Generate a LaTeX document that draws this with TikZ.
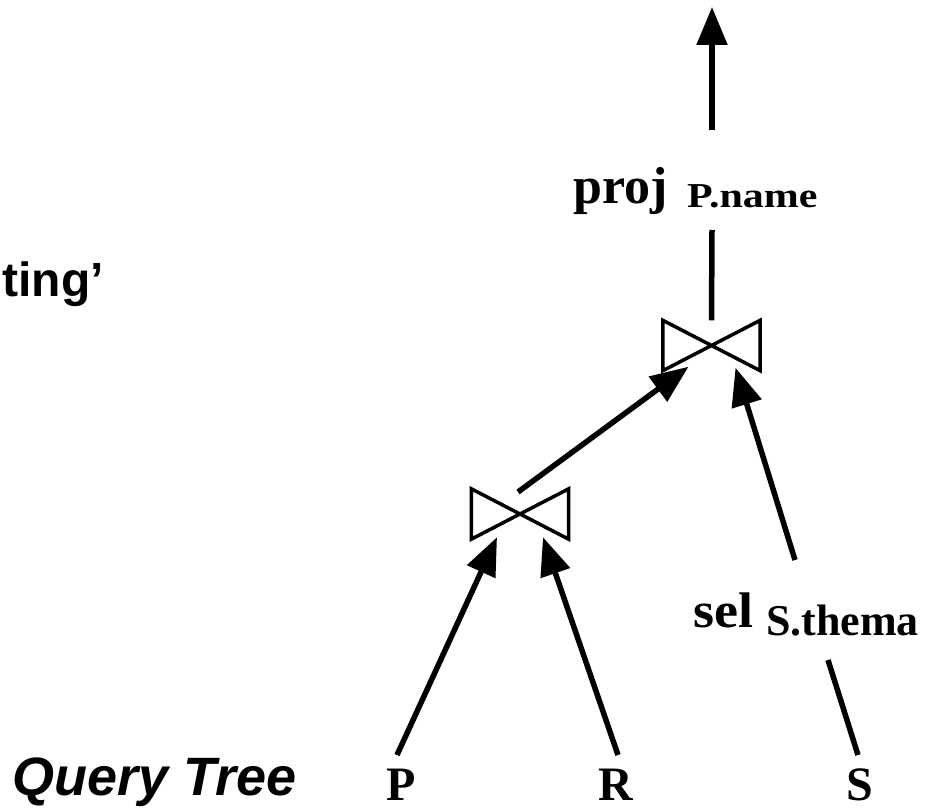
\documentclass[tikz,border=0pt]{standalone}
\usepackage{fontspec}
\setmainfont{Liberation Serif}
\setsansfont{Liberation Sans}
\usetikzlibrary{arrows.meta}
\begin{document}
\begin{tikzpicture}[x=1pt,y=-1pt,
  flow/.style={line width=5.5pt,-{Triangle[length=38pt,width=30pt]}},
  edge/.style={line width=5.5pt},
  tie/.style={line width=3.5pt,line join=miter},
  joinbox/.style={minimum width=97pt,minimum height=50pt,inner sep=0pt},
  optext/.style={inner sep=0pt,anchor=base west,font=\bfseries\fontsize{52}{52}\selectfont},
  subtext/.style={inner sep=0pt,anchor=base west,font=\bfseries\fontsize{35}{35}\selectfont},
  reltext/.style={inner sep=0pt,anchor=base west,font=\bfseries\fontsize{48}{48}\selectfont},
  labeltext/.style={inner sep=0pt,font=\sffamily\bfseries\fontsize{48}{48}\selectfont}]
\useasboundingbox (0,0) rectangle (929,810);

% side labels
\node[labeltext,anchor=base east] (lbl) at (104,297) {ting’};
\node[labeltext,anchor=base east,font=\sffamily\bfseries\itshape\fontsize{54}{54}\selectfont] (qt) at (297,795) {Query Tree};

% base relations
\node[reltext] (P) at (386,800) {P};
\node[reltext] (R) at (598,800) {R};
\node[reltext] (S) at (846,800) {S};

% operators
\node[optext] (proj) at (573,204) {proj};
\node[subtext] (projsub) at (687,208) {\scalebox{1.2}[1]{P.name}};
\node[optext,font=\bfseries\fontsize{50}{50}\selectfont] (sel) at (693,627) {\scalebox{1.08}[1]{sel}};
\node[subtext,font=\bfseries\fontsize{44}{44}\selectfont] (selsub) at (766,635) {S.thema};

% join symbols
\node[joinbox] (uj) at (711.5,345.5) {};
\node[joinbox] (lj) at (520,514) {};
\draw[tie] (uj.north west) -- (uj.south east) -- (uj.north east) -- (uj.south west) -- cycle;
\draw[tie] (lj.north west) -- (lj.south east) -- (lj.north east) -- (lj.south west) -- cycle;

% connector end points
\coordinate (outbase) at (712,130);
\coordinate (outtip) at (712,7);
\coordinate (projfoot) at (712,230);
\coordinate (selhead) at (795,560);
\coordinate (selfoot) at (828,660);
\coordinate (Ptop) at (397,755);
\coordinate (Rtop) at (618,755);
\coordinate (Stop) at (858,755);

% connectors
\draw[flow] (outbase) -- (outtip);
\draw[edge] (projfoot) -- (uj.north);
\draw[flow] ([shift={(-2,-22)}]lj.center) -- ([shift={(-23,-4)}]uj.south);
\draw[flow] (selhead) -- ([shift={(24,-3)}]uj.south);
\draw[flow] (Ptop) -- ([shift={(-23,-2)}]lj.south);
\draw[flow] (Rtop) -- ([shift={(23,-2)}]lj.south);
\draw[edge] (selfoot) -- (Stop);
\end{tikzpicture}
\end{document}
